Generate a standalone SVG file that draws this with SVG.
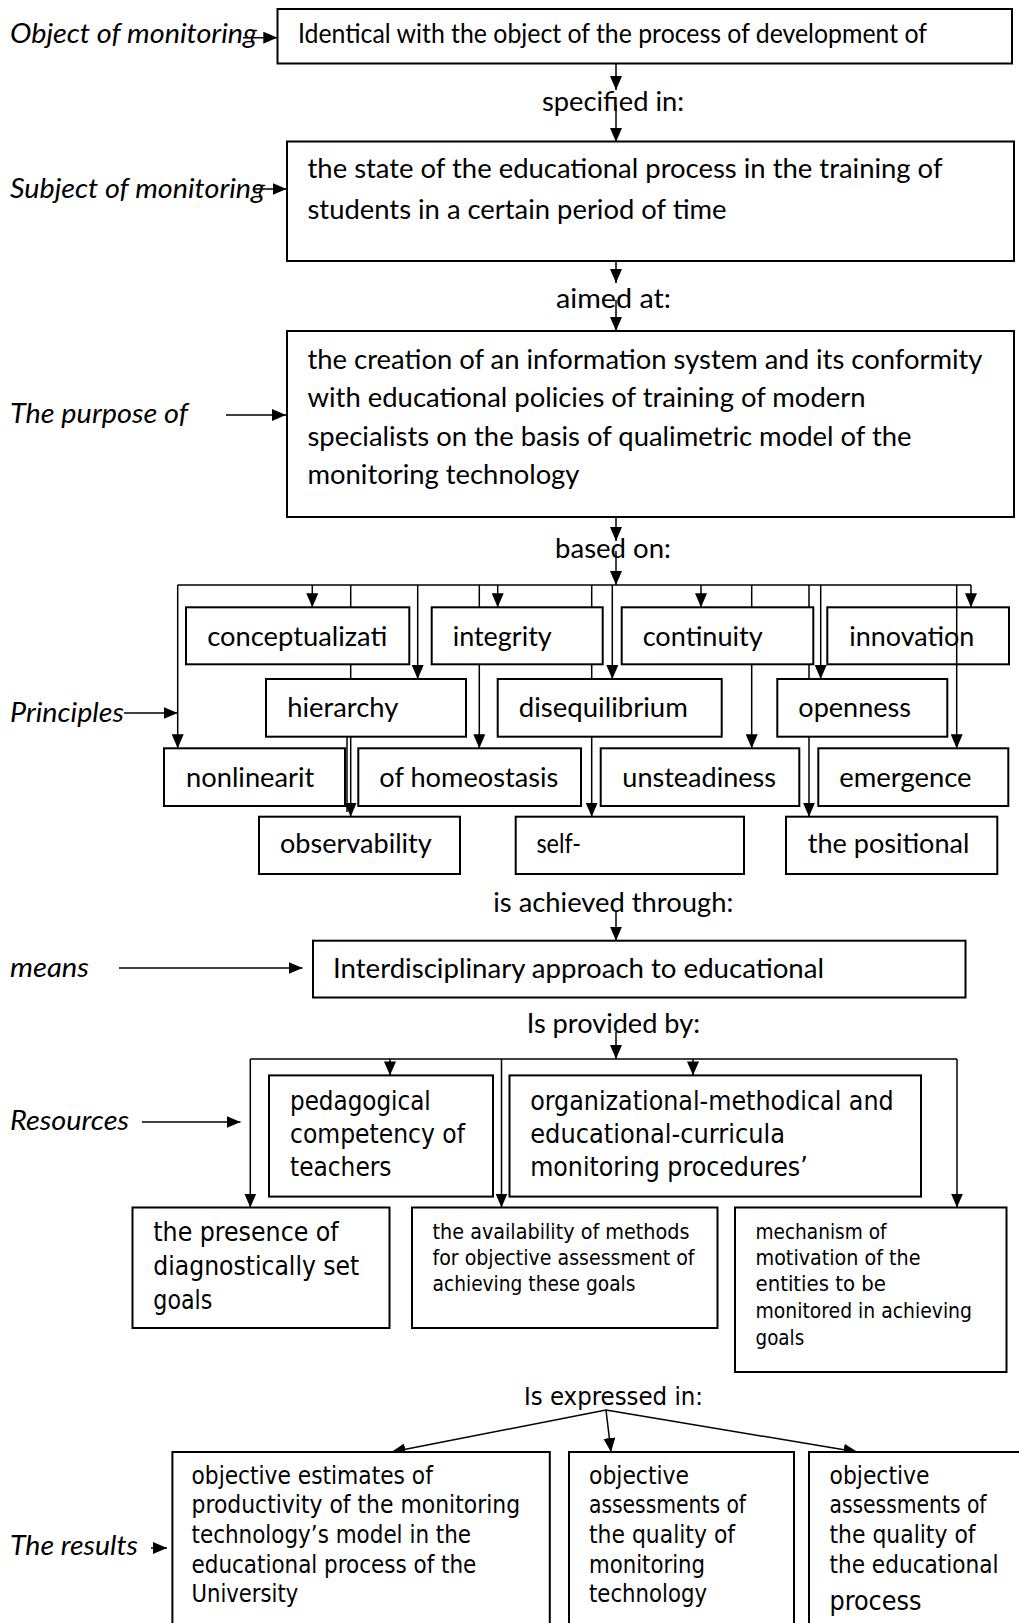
<svg xmlns="http://www.w3.org/2000/svg" width="1019" height="1623" viewBox="0 0 1019 1623">
<defs>
<style>
.bx{fill:#fff;stroke:#000;stroke-width:2}
.bxn{fill:none;stroke:#000;stroke-width:2}
.ln{fill:none;stroke:#000;stroke-width:1.5}
.la{fill:none;stroke:#000;stroke-width:1.5;marker-end:url(#ah)}
.m{font-family:Lato,"Open Sans",sans-serif;font-size:27px;fill:#000}
.i{font-style:italic}
.t{font-family:"DejaVu Sans Condensed","DejaVu Sans",sans-serif;fill:#000}
.t26{font-size:26px}
.t21{font-size:21px}
.t24{font-size:24.5px}
</style>
<marker id="ah" markerUnits="userSpaceOnUse" markerWidth="14" markerHeight="12" refX="14" refY="6" orient="auto">
<path d="M0,0 L14,6 L0,12 Z" fill="#000"/>
</marker>
</defs>

<g id="connectors">
<line class="la" x1="243" y1="37.7" x2="277.3" y2="37.7"/>
<line class="la" x1="616" y1="64" x2="616" y2="90"/>
<line class="la" x1="616" y1="105" x2="616" y2="142"/>
<line class="la" x1="253" y1="189" x2="286.5" y2="189"/>
<line class="la" x1="616" y1="261" x2="616" y2="283"/>
<line class="la" x1="616" y1="300" x2="616" y2="331"/>
<line class="la" x1="226" y1="415" x2="286" y2="415"/>
<line class="la" x1="616" y1="517" x2="616" y2="541"/>
<line class="la" x1="616" y1="551" x2="616" y2="585"/>
<line class="la" x1="124" y1="713" x2="177.7" y2="713"/>
<line class="ln" x1="177.7" y1="585" x2="971" y2="585"/>
<line class="la" x1="177.7" y1="585" x2="177.7" y2="748.3"/>
<line class="la" x1="312.3" y1="585" x2="312.3" y2="607.3"/>
<line class="la" x1="350.7" y1="585" x2="350.7" y2="816.7"/>
<line class="ln" x1="347" y1="700" x2="347" y2="812"/>
<line class="la" x1="417.7" y1="585" x2="417.7" y2="679"/>
<line class="la" x1="479.3" y1="585" x2="479.3" y2="748.3"/>
<line class="la" x1="497.7" y1="585" x2="497.7" y2="607.3"/>
<line class="la" x1="591.7" y1="585" x2="591.7" y2="816.7"/>
<line class="la" x1="612.3" y1="585" x2="612.3" y2="679"/>
<line class="la" x1="701" y1="585" x2="701" y2="607.3"/>
<line class="la" x1="751.7" y1="585" x2="751.7" y2="748.3"/>
<line class="la" x1="809" y1="585" x2="809" y2="816.7"/>
<line class="la" x1="820.7" y1="585" x2="820.7" y2="679"/>
<line class="la" x1="956.7" y1="585" x2="956.7" y2="748.3"/>
<line class="la" x1="971" y1="585" x2="971" y2="607.3"/>
<line class="la" x1="616" y1="912" x2="616" y2="940.7"/>
<line class="la" x1="119" y1="968" x2="302.5" y2="968"/>
<line class="la" x1="616" y1="1032" x2="616" y2="1059"/>
<line class="la" x1="142" y1="1122" x2="240.5" y2="1122"/>
<line class="ln" x1="250.3" y1="1059" x2="957" y2="1059"/>
<line class="la" x1="250.3" y1="1059" x2="250.3" y2="1207.5"/>
<line class="la" x1="390" y1="1059" x2="390" y2="1075.4"/>
<line class="la" x1="501.5" y1="1059" x2="501.5" y2="1207.5"/>
<line class="la" x1="693" y1="1059" x2="693" y2="1075.4"/>
<line class="la" x1="957" y1="1059" x2="957" y2="1207.5"/>
<line class="la" x1="606" y1="1410" x2="391.5" y2="1452"/>
<line class="la" x1="606" y1="1410" x2="611" y2="1452"/>
<line class="la" x1="606" y1="1410" x2="857.5" y2="1452"/>
<line class="la" x1="151" y1="1548" x2="167" y2="1548"/>
</g>

<g id="edge-labels">
<text class="m" x="542" y="111" textLength="142" lengthAdjust="spacingAndGlyphs">specified in:</text>
<text class="m" x="556" y="308" textLength="115" lengthAdjust="spacingAndGlyphs">aimed at:</text>
<text class="m" x="555" y="558" textLength="116" lengthAdjust="spacingAndGlyphs">based on:</text>
<text class="m" x="493.3" y="912.3" textLength="240" lengthAdjust="spacingAndGlyphs">is achieved through:</text>
<text class="m" x="526.7" y="1032.7" textLength="173.3" lengthAdjust="spacingAndGlyphs">Is provided by:</text>
<text class="t" x="524" y="1405" font-size="25.5" textLength="179" lengthAdjust="spacingAndGlyphs">Is expressed in:</text>
</g>

<g id="side-labels">
<text class="m i" x="10" y="43" textLength="247" lengthAdjust="spacingAndGlyphs">Object of monitoring</text>
<text class="m i" x="10" y="198" textLength="255" lengthAdjust="spacingAndGlyphs">Subject of monitoring</text>
<text class="m i" x="10" y="423" textLength="178" lengthAdjust="spacingAndGlyphs">The purpose of</text>
<text class="m i" x="10" y="722" textLength="114" lengthAdjust="spacingAndGlyphs">Principles</text>
<text class="m i" x="10" y="976.7" textLength="79" lengthAdjust="spacingAndGlyphs">means</text>
<text class="m i" x="10" y="1130" textLength="119" lengthAdjust="spacingAndGlyphs">Resources</text>
<text class="m i" x="10" y="1555" textLength="128" lengthAdjust="spacingAndGlyphs">The results</text>
</g>

<g id="object">
<rect class="bx" x="277.5" y="9" width="734.5" height="54.5"/>
<text class="m" x="298" y="43" font-size="26" textLength="629" lengthAdjust="spacingAndGlyphs">Identical with the object of the process of development of</text>
</g>
<g id="subject">
<rect class="bx" x="287" y="141.5" width="727" height="119.5"/>
<text class="m" x="307.5" y="178" textLength="635" lengthAdjust="spacingAndGlyphs">the state of the educational process in the training of</text>
<text class="m" x="307.5" y="218.5" textLength="419" lengthAdjust="spacingAndGlyphs">students in a certain period of time</text>
</g>
<g id="purpose">
<rect class="bx" x="287" y="331" width="727" height="186"/>
<text class="m" x="307.5" y="369" textLength="675" lengthAdjust="spacingAndGlyphs">the creation of an information system and its conformity</text>
<text class="m" x="307.5" y="407" textLength="558" lengthAdjust="spacingAndGlyphs">with educational policies of training of modern</text>
<text class="m" x="307.5" y="446" textLength="604" lengthAdjust="spacingAndGlyphs">specialists on the basis of qualimetric model of the</text>
<text class="m" x="307.5" y="484" textLength="272" lengthAdjust="spacingAndGlyphs">monitoring technology</text>
</g>

<g id="p-conceptualization">
<rect class="bx" x="186" y="607.3" width="223.3" height="57"/>
<text class="m" x="207.3" y="645.7" textLength="180" lengthAdjust="spacingAndGlyphs">conceptualizati</text>
</g>
<g id="p-integrity">
<rect class="bx" x="431.7" y="607.3" width="171" height="57"/>
<text class="m" x="452.7" y="645.7" textLength="99" lengthAdjust="spacingAndGlyphs">integrity</text>
</g>
<g id="p-continuity">
<rect class="bx" x="621.7" y="607.3" width="191.6" height="57"/>
<text class="m" x="642.7" y="645.7" textLength="120" lengthAdjust="spacingAndGlyphs">continuity</text>
</g>
<g id="p-innovation">
<rect class="bxn" x="827.3" y="607.3" width="181.7" height="57"/>
<text class="m" x="849.3" y="645.7" textLength="125" lengthAdjust="spacingAndGlyphs">innovation</text>
</g>
<g id="p-hierarchy">
<rect class="bx" x="266" y="679" width="200" height="57.7"/>
<text class="m" x="287.3" y="716.7" textLength="111" lengthAdjust="spacingAndGlyphs">hierarchy</text>
</g>
<g id="p-disequilibrium">
<rect class="bx" x="497.7" y="679" width="224" height="57.7"/>
<text class="m" x="518.8" y="716.7" textLength="169" lengthAdjust="spacingAndGlyphs">disequilibrium</text>
</g>
<g id="p-openness">
<rect class="bx" x="777.3" y="679" width="170" height="57.7"/>
<text class="m" x="798.3" y="716.7" textLength="112.7" lengthAdjust="spacingAndGlyphs">openness</text>
</g>
<g id="p-nonlinearity">
<rect class="bx" x="164" y="748.3" width="181" height="57.7"/>
<text class="m" x="186" y="786.7" textLength="128.3" lengthAdjust="spacingAndGlyphs">nonlinearit</text>
</g>
<g id="p-homeostasis">
<rect class="bx" x="358.3" y="748.3" width="222.7" height="57.7"/>
<text class="m" x="379.3" y="786.7" textLength="179" lengthAdjust="spacingAndGlyphs">of homeostasis</text>
</g>
<g id="p-unsteadiness">
<rect class="bx" x="600.7" y="748.3" width="198.6" height="57.7"/>
<text class="m" x="622.3" y="786.7" textLength="153.7" lengthAdjust="spacingAndGlyphs">unsteadiness</text>
</g>
<g id="p-emergence">
<rect class="bx" x="818.3" y="748.3" width="190" height="57.7"/>
<text class="m" x="839.3" y="786.7" textLength="132.3" lengthAdjust="spacingAndGlyphs">emergence</text>
</g>
<g id="p-observability">
<rect class="bx" x="259" y="816.7" width="201" height="57.3"/>
<text class="m" x="280" y="853.3" textLength="151.7" lengthAdjust="spacingAndGlyphs">observability</text>
</g>
<g id="p-self">
<rect class="bx" x="515.7" y="816.7" width="228.3" height="57.3"/>
<text class="m" x="536.4" y="853.3" textLength="44.6" lengthAdjust="spacingAndGlyphs">self-</text>
</g>
<g id="p-positional">
<rect class="bx" x="786" y="816.7" width="211.3" height="57.3"/>
<text class="m" x="807.7" y="853.3" textLength="161.7" lengthAdjust="spacingAndGlyphs">the positional</text>
</g>

<g id="means">
<rect class="bx" x="313" y="940.7" width="652.5" height="56.8"/>
<text class="m" x="333" y="978.3" textLength="491" lengthAdjust="spacingAndGlyphs">Interdisciplinary approach to educational</text>
</g>

<g id="r-pedagogical">
<rect class="bx" x="269" y="1075.4" width="224" height="121.2"/>
<text class="t t26" x="290" y="1109.5" textLength="140.8" lengthAdjust="spacingAndGlyphs">pedagogical</text>
<text class="t t26" x="290" y="1142.7" textLength="175" lengthAdjust="spacingAndGlyphs">competency of</text>
<text class="t t26" x="290" y="1176.4" textLength="101.5" lengthAdjust="spacingAndGlyphs">teachers</text>
</g>
<g id="r-organizational">
<rect class="bx" x="509.5" y="1075.4" width="411.5" height="121.2"/>
<text class="t t26" x="530.2" y="1109.5" textLength="363.5" lengthAdjust="spacingAndGlyphs">organizational-methodical and</text>
<text class="t t26" x="530.2" y="1142.7" textLength="254.8" lengthAdjust="spacingAndGlyphs">educational-curricula</text>
<text class="t t26" x="530.2" y="1176.4" textLength="277.5" lengthAdjust="spacingAndGlyphs">monitoring procedures’</text>
</g>
<g id="r-presence">
<rect class="bx" x="132.5" y="1207.5" width="257" height="120.5"/>
<text class="t t26" x="153.3" y="1241" textLength="185.4" lengthAdjust="spacingAndGlyphs">the presence of</text>
<text class="t t26" x="153.3" y="1275" textLength="206" lengthAdjust="spacingAndGlyphs">diagnostically set</text>
<text class="t t26" x="153.3" y="1308.5" textLength="59" lengthAdjust="spacingAndGlyphs">goals</text>
</g>
<g id="r-availability">
<rect class="bx" x="412" y="1207.5" width="305.5" height="120.5"/>
<text class="t t21" x="432.5" y="1238.7" textLength="257" lengthAdjust="spacingAndGlyphs">the availability of methods</text>
<text class="t t21" x="432.5" y="1265" textLength="262" lengthAdjust="spacingAndGlyphs">for objective assessment of</text>
<text class="t t21" x="432.5" y="1290.8" textLength="203" lengthAdjust="spacingAndGlyphs">achieving these goals</text>
</g>
<g id="r-mechanism">
<rect class="bx" x="735" y="1207.5" width="271.5" height="164.5"/>
<text class="t t21" x="755.5" y="1238.7" textLength="131" lengthAdjust="spacingAndGlyphs">mechanism of</text>
<text class="t t21" x="755.5" y="1265" textLength="165" lengthAdjust="spacingAndGlyphs">motivation of the</text>
<text class="t t21" x="755.5" y="1290.8" textLength="130.5" lengthAdjust="spacingAndGlyphs">entities to be</text>
<text class="t t21" x="755.5" y="1317.8" textLength="216.5" lengthAdjust="spacingAndGlyphs">monitored in achieving</text>
<text class="t t21" x="755.5" y="1344.7" textLength="48.7" lengthAdjust="spacingAndGlyphs">goals</text>
</g>

<g id="res-productivity">
<rect class="bx" x="172.4" y="1452" width="377.4" height="200"/>
<text class="t t24" x="191.5" y="1484" textLength="241.3" lengthAdjust="spacingAndGlyphs">objective estimates of</text>
<text class="t t24" x="191.5" y="1513.3" textLength="328.6" lengthAdjust="spacingAndGlyphs">productivity of the monitoring</text>
<text class="t t24" x="191.5" y="1543" textLength="279.6" lengthAdjust="spacingAndGlyphs">technology’s model in the</text>
<text class="t t24" x="191.5" y="1572.7" textLength="284.8" lengthAdjust="spacingAndGlyphs">educational process of the</text>
<text class="t t24" x="191.5" y="1601.7" textLength="106.7" lengthAdjust="spacingAndGlyphs">University</text>
</g>
<g id="res-technology">
<rect class="bx" x="569" y="1452" width="225" height="200"/>
<text class="t t24" x="589" y="1484" textLength="100" lengthAdjust="spacingAndGlyphs">objective</text>
<text class="t t24" x="589" y="1513.3" textLength="157" lengthAdjust="spacingAndGlyphs">assessments of</text>
<text class="t t24" x="589" y="1543" textLength="146" lengthAdjust="spacingAndGlyphs">the quality of</text>
<text class="t t24" x="589" y="1572.7" textLength="116" lengthAdjust="spacingAndGlyphs">monitoring</text>
<text class="t t24" x="589" y="1601.7" textLength="118" lengthAdjust="spacingAndGlyphs">technology</text>
</g>
<g id="res-process">
<rect class="bx" x="809" y="1452" width="230" height="200"/>
<text class="t t24" x="829.5" y="1484" textLength="100" lengthAdjust="spacingAndGlyphs">objective</text>
<text class="t t24" x="829.5" y="1513.3" textLength="157" lengthAdjust="spacingAndGlyphs">assessments of</text>
<text class="t t24" x="829.5" y="1543" textLength="146" lengthAdjust="spacingAndGlyphs">the quality of</text>
<text class="t t24" x="829.5" y="1572.7" textLength="169" lengthAdjust="spacingAndGlyphs">the educational</text>
<text class="t" x="829.5" y="1610" font-size="27" textLength="92" lengthAdjust="spacingAndGlyphs">process</text>
</g>
</svg>
